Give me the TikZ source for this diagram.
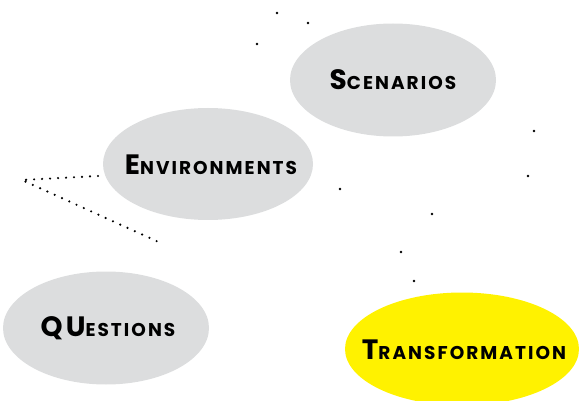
\documentclass[tikz,border=0pt]{standalone}
\usepackage{fontspec}
\setmainfont{Poppins}[LetterSpace=11]
\usetikzlibrary{shapes.geometric}
\definecolor{ovalgray}{HTML}{DCDDDE}
\definecolor{ovalyellow}{HTML}{FFF200}
\newcommand\mylbl[2]{\bfseries{\fontsize{28}{28}\selectfont #1}{\fontsize{18.5}{18.5}\selectfont #2}}
\begin{document}
\begin{tikzpicture}[x=1pt,y=-1pt,
  oval/.style={ellipse, fill=ovalgray, inner sep=0pt},
  yoval/.style={ellipse, fill=ovalyellow, inner sep=0pt},
  speck/.style={fill=black, circle, inner sep=0pt, minimum size=2.6pt},
  dotline/.style={line width=2.4pt, line cap=round, dash pattern=on 0pt off 8pt}]
\useasboundingbox (0,0) rectangle (579,401);
\node[oval, minimum width=206pt, minimum height=113pt] (scen) at (393,80) {};
\node at (393,80) {\mylbl{S}{CENARIOS}};
\node[oval, minimum width=210pt, minimum height=112pt] (env) at (208,164) {};
\node at (211,165) {\mylbl{E}{NVIRONMENTS}};
\node[oval, minimum width=206pt, minimum height=113pt] (ques) at (106,328) {};
\node at (108,328) {\mylbl{QU}{ESTIONS}};
\node[yoval, minimum width=234pt, minimum height=113pt] (trans) at (462,349) {};
\node at (464,350) {\mylbl{T}{RANSFORMATION}};
\foreach \p/\q in {277/13, 308/23, 257/44, 534/131, 528/176, 340/189, 432/214, 401/252, 414/281}
  \node[speck] at (\p,\q) {};
\coordinate (d1) at (98,176);
\coordinate (d0) at (22,180);
\coordinate (d2) at (163,244);
\draw[dotline] (d1) -- (d0) -- (d2);
\end{tikzpicture}
\end{document}
